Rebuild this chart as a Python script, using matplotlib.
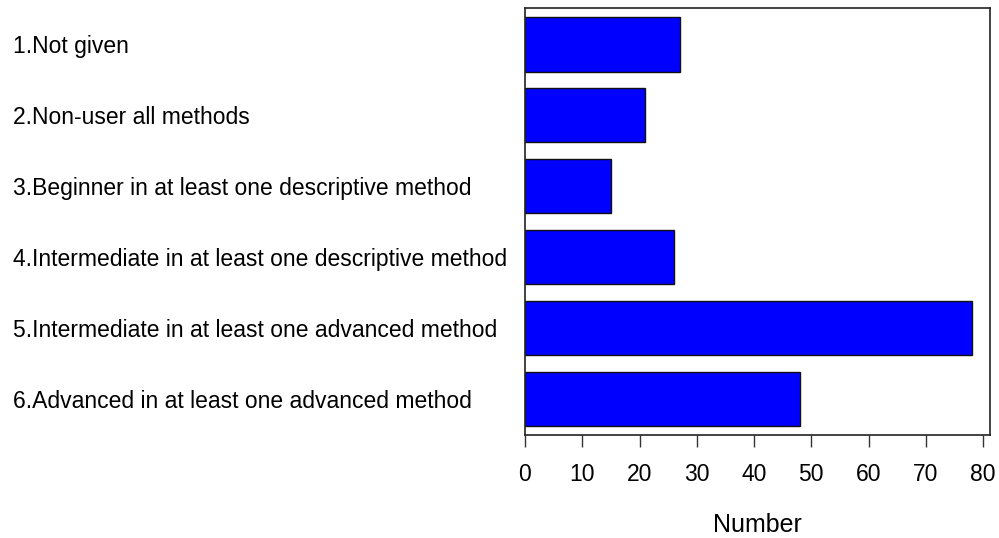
import matplotlib.pyplot as plt

categories = [
    "1.Not given",
    "2.Non-user all methods",
    "3.Beginner in at least one descriptive method",
    "4.Intermediate in at least one descriptive method",
    "5.Intermediate in at least one advanced method",
    "6.Advanced in at least one advanced method",
]
counts = [27, 21, 15, 26, 78, 48]
xticks = [0, 10, 20, 30, 40, 50, 60, 70, 80]

plt.rcParams["font.family"] = ["Liberation Sans", "DejaVu Sans"]

fig = plt.figure(figsize=(9.99, 5.38), dpi=100)
ax = fig.add_axes([0.5255, 0.1914, 0.991 - 0.5255, 0.985 - 0.1914])

pos = list(range(1, len(categories) + 1))
ax.barh(pos, counts, height=0.77, color="#0000ff", edgecolor="#111111", linewidth=1.0)

ax.set_ylim(6.51, 0.49)
ax.set_xlim(0, 81.2)
ax.set_yticks(pos)
ax.set_yticklabels(categories, ha="left", fontsize=16.5)
ax.tick_params(axis="y", length=0, pad=(525 - 13) * 0.72)
ax.set_xticks(xticks)
ax.tick_params(axis="x", length=8.5, width=1.0, pad=12, labelsize=16.5, color="#333333")
for sp in ax.spines.values():
    sp.set_linewidth(1.2)
    sp.set_color("#222222")
ax.set_xlabel("Number", fontsize=18, labelpad=19)

fig.savefig("out.png", dpi=100)
